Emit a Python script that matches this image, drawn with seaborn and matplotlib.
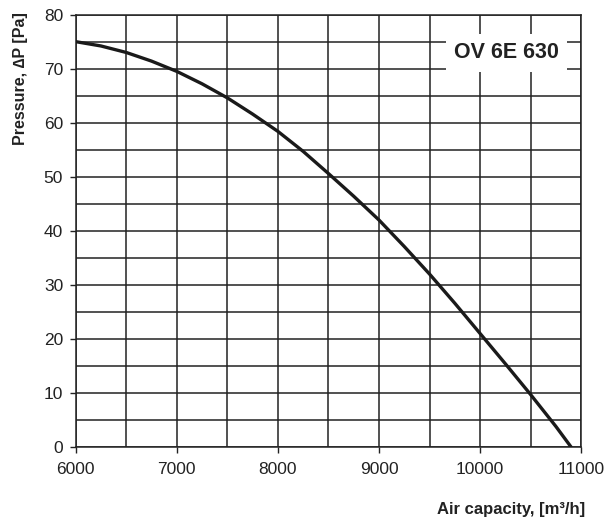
import matplotlib
matplotlib.use("Agg")
import matplotlib.pyplot as plt
import seaborn as sns
import pandas as pd
from matplotlib.ticker import MultipleLocator

# fan curve OV 6E 630
air_capacity = [6000, 6250, 6500, 6750, 7000, 7250, 7500, 7750, 8000, 8250, 8500,
                8750, 9000, 9250, 9500, 9750, 10000, 10250, 10500, 10750, 10900]
pressure = [75.0, 74.2, 73.0, 71.4, 69.5, 67.2, 64.6, 61.6, 58.4, 54.7, 50.6,
            46.4, 42.0, 37.1, 32.0, 26.6, 21.0, 15.4, 9.7, 3.8, 0.0]
model_label = "OV 6E 630"

df = pd.DataFrame({"air": air_capacity, "pressure": pressure})

sns.set_style("white")
plt.rcParams["font.family"] = ["Liberation Sans", "DejaVu Sans"]

fig = plt.figure(figsize=(6.15, 5.22), dpi=100)
ax = fig.add_axes([0.123, 0.1437, 0.822, 0.8283])

sns.lineplot(data=df, x="air", y="pressure", ax=ax, color="#1a1a1a", linewidth=2.4,
             zorder=3, solid_joinstyle="round")

ax.set_xlim(6000, 11000)
ax.set_ylim(0, 80)
ax.xaxis.set_major_locator(MultipleLocator(1000))
ax.xaxis.set_minor_locator(MultipleLocator(500))
ax.yaxis.set_major_locator(MultipleLocator(10))
ax.yaxis.set_minor_locator(MultipleLocator(5))
ax.grid(which="both", color="#222222", linewidth=1.1)
ax.set_axisbelow(True)
for s in ax.spines.values():
    s.set_color("#222222")
    s.set_linewidth(1.1)
ax.tick_params(which="major", direction="out", length=4, width=1, color="#222222",
               labelsize=12.5, labelcolor="#222222", bottom=True, left=True)
ax.tick_params(axis="x", which="major", pad=7)
ax.tick_params(axis="y", which="major", pad=5)
ax.tick_params(which="minor", length=0)

ax.set_xlabel("")
ax.set_ylabel("")
fig.text(0.033, 0.85, "Pressure, \u2206P [Pa]", rotation=90, ha="center", va="center",
         fontsize=11.5, fontweight="bold", color="#222222")
fig.text(0.951, 0.023, "Air capacity, [m\u00b3/h]", ha="right", va="center",
         fontsize=12, fontweight="bold", color="#222222")

ax.text(10262, 72.9, model_label, ha="center", va="center", fontsize=15.5, fontweight="bold",
        color="#222222", zorder=4,
        bbox=dict(facecolor="white", edgecolor="none", pad=6))

fig.savefig("out.png", dpi=100)
